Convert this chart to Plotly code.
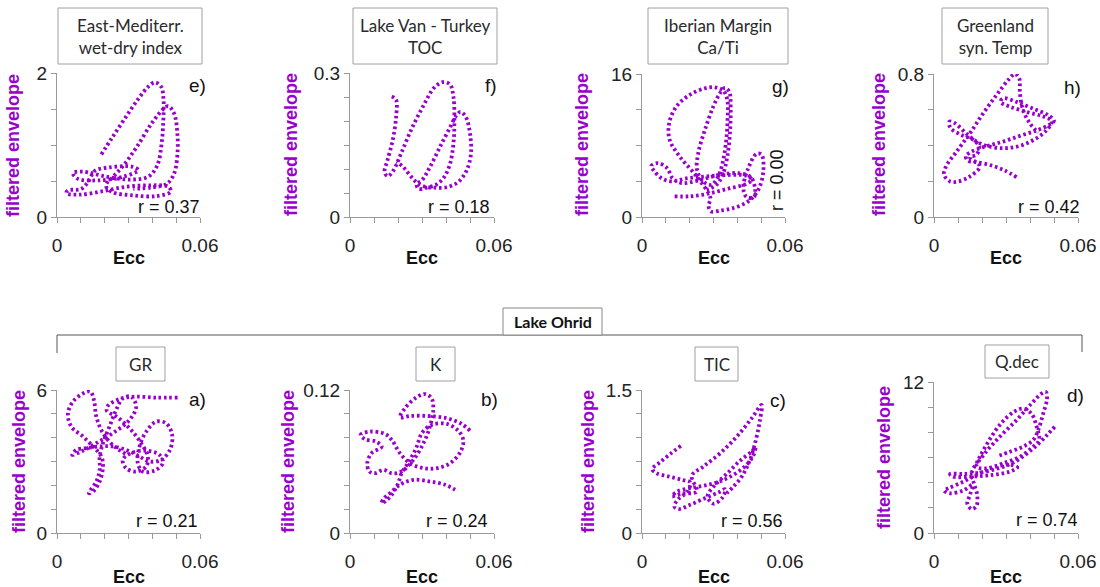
import plotly.graph_objects as go

W, H = 1100, 587
PURPLE = "#9900cc"
AXIS_GREY = "#9a9a9a"
TXT = "#222222"
FONT = "Liberation Sans, Arial, sans-serif"
TFONT = "Lato, Open Sans, sans-serif"

# ---------------- data: (Ecc, filtered envelope) trajectories ----------------
e_x = [0.0186, 0.0229, 0.0285, 0.0341, 0.0383, 0.0411, 0.0437, 0.0447, 0.0446, 0.0439,
       0.0421, 0.0383, 0.0306, 0.0207, 0.0109, 0.0067, 0.0088, 0.0179, 0.0278, 0.0341,
       0.0313, 0.0222, 0.0158, 0.0135, 0.0102, 0.0046, 0.0039, 0.0095, 0.0193, 0.0292,
       0.0390, 0.0467, 0.0477, 0.0418, 0.0320, 0.0229, 0.0205, 0.0236, 0.0280, 0.0334,
       0.0397, 0.0446, 0.0467, 0.0491, 0.0505, 0.0505, 0.0491, 0.0460, 0.0397, 0.0320]
e_y = [0.87, 1.09, 1.37, 1.64, 1.81, 1.87, 1.81, 1.62, 1.34, 1.02,
       0.72, 0.56, 0.52, 0.56, 0.63, 0.61, 0.53, 0.51, 0.56, 0.65,
       0.70, 0.69, 0.64, 0.51, 0.39, 0.37, 0.33, 0.31, 0.36, 0.42,
       0.44, 0.42, 0.35, 0.29, 0.30, 0.35, 0.44, 0.56, 0.72, 0.97,
       1.30, 1.50, 1.54, 1.44, 1.16, 0.86, 0.60, 0.46, 0.41, 0.39]

f_x = [0.0174, 0.0192, 0.0192, 0.0178, 0.0156, 0.0144, 0.0157, 0.0181, 0.0215, 0.0257,
       0.0306, 0.0350, 0.0386, 0.0417, 0.0431, 0.0435, 0.0431, 0.0417, 0.0392, 0.0361,
       0.0319, 0.0285, 0.0278, 0.0299, 0.0333, 0.0375, 0.0417, 0.0444, 0.0461, 0.0483,
       0.0500, 0.0504, 0.0486, 0.0451, 0.0403, 0.0354, 0.0306, 0.0275, 0.0250, 0.0222,
       0.0194]
f_y = [0.251, 0.244, 0.208, 0.160, 0.118, 0.094, 0.085, 0.097, 0.135, 0.184,
       0.232, 0.269, 0.281, 0.276, 0.250, 0.201, 0.153, 0.111, 0.083, 0.068,
       0.061, 0.059, 0.069, 0.076, 0.104, 0.146, 0.187, 0.212, 0.219, 0.208,
       0.174, 0.132, 0.097, 0.073, 0.062, 0.061, 0.064, 0.073, 0.087, 0.104,
       0.115]

g_x = [0.0137, 0.0200, 0.0271, 0.0355, 0.0439, 0.0460, 0.0439, 0.0355, 0.0271, 0.0186,
       0.0123, 0.0081, 0.0049, 0.0039, 0.0067, 0.0105, 0.0128, 0.0165, 0.0236, 0.0327,
       0.0404, 0.0456, 0.0474, 0.0470, 0.0439, 0.0425, 0.0446, 0.0481, 0.0502, 0.0509,
       0.0488, 0.0446, 0.0383, 0.0327, 0.0289, 0.0279, 0.0287, 0.0229, 0.0158, 0.0116,
       0.0114, 0.0144, 0.0200, 0.0264, 0.0306, 0.0341, 0.0358, 0.0359, 0.0352, 0.0338,
       0.0320, 0.0292, 0.0257, 0.0231, 0.0236, 0.0264, 0.0299, 0.0327, 0.0348, 0.0366,
       0.0372, 0.0369, 0.0358, 0.0341, 0.0313, 0.0271]
g_y = [2.31, 2.31, 2.57, 3.13, 3.72, 4.17, 4.61, 4.69, 4.54, 4.32,
       3.98, 4.35, 5.21, 5.73, 6.03, 5.47, 4.35, 3.80, 4.09, 4.73,
       4.91, 4.47, 3.24, 2.23, 2.23, 3.24, 5.47, 7.07, 6.96, 5.10,
       3.05, 1.75, 1.00, 0.71, 0.63, 1.27, 2.12, 4.54, 6.77, 8.63,
       10.49, 12.35, 13.66, 14.40, 14.51, 14.14, 13.10, 10.87, 8.26, 6.03,
       4.54, 3.61, 3.98, 5.28, 7.14, 9.75, 12.35, 13.84, 14.44, 14.03,
       12.35, 9.38, 6.77, 4.91, 3.61, 3.05]

h_x = [0.0344, 0.0295, 0.0240, 0.0177, 0.0140, 0.0133, 0.0157, 0.0205, 0.0281, 0.0358,
       0.0427, 0.0482, 0.0500, 0.0475, 0.0413, 0.0344, 0.0288, 0.0277, 0.0316, 0.0385,
       0.0455, 0.0491, 0.0468, 0.0420, 0.0358, 0.0288, 0.0219, 0.0177, 0.0136, 0.0087,
       0.0064, 0.0069, 0.0115, 0.0164, 0.0188, 0.0177, 0.0150, 0.0191, 0.0150, 0.0101,
       0.0067, 0.0042, 0.0050, 0.0094, 0.0150, 0.0205, 0.0261, 0.0309, 0.0337, 0.0355,
       0.0358, 0.0371, 0.0399, 0.0434]
h_y = [0.223, 0.260, 0.288, 0.307, 0.316, 0.342, 0.366, 0.391, 0.419, 0.454,
       0.484, 0.517, 0.539, 0.571, 0.606, 0.644, 0.664, 0.644, 0.618, 0.588,
       0.562, 0.536, 0.484, 0.435, 0.398, 0.385, 0.398, 0.422, 0.465, 0.525,
       0.534, 0.497, 0.459, 0.432, 0.394, 0.348, 0.335, 0.283, 0.227, 0.199,
       0.199, 0.236, 0.283, 0.366, 0.469, 0.580, 0.683, 0.766, 0.800, 0.776,
       0.692, 0.599, 0.525, 0.472]

a_x = [0.0506, 0.0416, 0.0325, 0.0262, 0.0213, 0.0209, 0.0255, 0.0311, 0.0353, 0.0381,
       0.0374, 0.0332, 0.0290, 0.0276, 0.0311, 0.0374, 0.0430, 0.0444, 0.0409, 0.0360,
       0.0339, 0.0346, 0.0374, 0.0416, 0.0458, 0.0483, 0.0474, 0.0437, 0.0388, 0.0346,
       0.0290, 0.0234, 0.0179, 0.0123, 0.0081, 0.0064, 0.0102, 0.0165, 0.0234, 0.0304,
       0.0332, 0.0311, 0.0276, 0.0248, 0.0220, 0.0193, 0.0179, 0.0179, 0.0165, 0.0140,
       0.0134, 0.0151, 0.0179, 0.0193, 0.0186, 0.0151, 0.0109, 0.0060, 0.0046, 0.0067,
       0.0116, 0.0140, 0.0155, 0.0165, 0.0193, 0.0241, 0.0297]
a_y = [5.68, 5.68, 5.72, 5.62, 5.33, 5.13, 4.85, 4.32, 3.77, 3.21,
       2.79, 2.58, 2.72, 3.07, 3.35, 3.46, 3.28, 2.93, 2.62, 2.58,
       2.93, 3.63, 4.25, 4.67, 4.60, 4.12, 3.49, 3.07, 3.00, 3.21,
       3.49, 3.63, 3.63, 3.56, 3.49, 3.28, 3.42, 3.77, 4.19, 4.74,
       5.30, 5.72, 5.65, 5.16, 4.46, 3.77, 3.21, 2.65, 2.16, 1.79,
       1.67, 1.74, 2.16, 2.79, 3.21, 3.63, 4.05, 4.46, 5.02, 5.51,
       5.89, 5.93, 5.58, 4.88, 4.19, 3.63, 3.28]

b_x = [0.0500, 0.0465, 0.0403, 0.0326, 0.0250, 0.0208, 0.0229, 0.0271, 0.0313, 0.0340,
       0.0347, 0.0333, 0.0306, 0.0264, 0.0215, 0.0174, 0.0139, 0.0104, 0.0081, 0.0072,
       0.0090, 0.0132, 0.0108, 0.0063, 0.0044, 0.0083, 0.0146, 0.0174, 0.0208, 0.0250,
       0.0306, 0.0361, 0.0417, 0.0461, 0.0472, 0.0451, 0.0403, 0.0340, 0.0299, 0.0278,
       0.0250, 0.0215, 0.0201, 0.0174, 0.0146, 0.0132, 0.0139, 0.0167, 0.0208, 0.0264,
       0.0333, 0.0396, 0.0438]
b_y = [0.0859, 0.0915, 0.0963, 0.0982, 0.0982, 0.0971, 0.1046, 0.1130, 0.1166, 0.1130,
       0.1032, 0.0893, 0.0753, 0.0614, 0.0516, 0.0502, 0.0530, 0.0502, 0.0516, 0.0586,
       0.0670, 0.0725, 0.0767, 0.0787, 0.0823, 0.0851, 0.0831, 0.0781, 0.0670, 0.0586,
       0.0544, 0.0544, 0.0586, 0.0684, 0.0781, 0.0859, 0.0915, 0.0907, 0.0837, 0.0725,
       0.0614, 0.0502, 0.0419, 0.0321, 0.0265, 0.0251, 0.0285, 0.0335, 0.0405, 0.0446,
       0.0432, 0.0405, 0.0363]

c_x = [0.0163, 0.0119, 0.0074, 0.0043, 0.0060, 0.0112, 0.0167, 0.0202, 0.0191, 0.0153,
       0.0135, 0.0153, 0.0202, 0.0265, 0.0321, 0.0349, 0.0339, 0.0300, 0.0275, 0.0303,
       0.0356, 0.0412, 0.0460, 0.0476, 0.0465, 0.0428, 0.0372, 0.0314, 0.0258, 0.0202,
       0.0149, 0.0126, 0.0167, 0.0230, 0.0209, 0.0258, 0.0328, 0.0398, 0.0460, 0.0502,
       0.0495, 0.0478, 0.0453, 0.0419, 0.0384, 0.0356]
c_y = [0.914, 0.830, 0.739, 0.670, 0.628, 0.593, 0.558, 0.530, 0.436, 0.356,
       0.279, 0.251, 0.296, 0.366, 0.426, 0.460, 0.377, 0.307, 0.384, 0.495,
       0.621, 0.760, 0.855, 0.900, 0.802, 0.691, 0.593, 0.530, 0.495, 0.471,
       0.436, 0.384, 0.412, 0.436, 0.600, 0.698, 0.837, 1.012, 1.203, 1.343,
       1.186, 0.977, 0.767, 0.593, 0.488, 0.419]

d_x = [0.0503, 0.0475, 0.0434, 0.0385, 0.0330, 0.0268, 0.0191, 0.0122, 0.0067, 0.0078,
       0.0150, 0.0233, 0.0316, 0.0347, 0.0313, 0.0247, 0.0177, 0.0115, 0.0060, 0.0042,
       0.0067, 0.0122, 0.0161, 0.0150, 0.0139, 0.0157, 0.0177, 0.0180, 0.0166, 0.0157,
       0.0184, 0.0226, 0.0281, 0.0333, 0.0371, 0.0406, 0.0427, 0.0438, 0.0413, 0.0358,
       0.0288, 0.0219, 0.0177, 0.0212, 0.0274, 0.0344, 0.0406, 0.0448, 0.0466, 0.0471,
       0.0455, 0.0434, 0.0413, 0.0371, 0.0316, 0.0261]
d_y = [8.44, 7.86, 7.07, 6.28, 5.59, 5.14, 4.80, 4.69, 4.69, 4.48,
       4.48, 4.59, 4.88, 5.22, 5.43, 5.22, 4.61, 4.01, 3.56, 3.38,
       3.16, 3.38, 3.82, 3.03, 2.32, 1.90, 2.16, 3.03, 3.96, 4.75,
       5.80, 7.25, 8.75, 9.63, 9.89, 9.49, 8.49, 7.38, 6.86, 6.07,
       5.54, 5.14, 5.27, 6.33, 7.65, 8.97, 10.28, 11.08, 11.21, 10.68,
       9.49, 8.17, 7.38, 6.86, 6.46, 6.07]

# axis scales / labels
x_max = 0.06
x_step = 0.01
x_tick_labels = ["0", "0.06"]
panel_ids = ["e", "f", "g", "h", "a", "b", "c", "d"]
y_max = [2, 0.3, 16, 0.8, 6, 0.12, 1.5, 12]
y_step = [0.5, 0.05, 4, 0.2, 1, 0.02, 0.25, 2]
y_top_labels = ["2", "0.3", "16", "0.8", "6", "0.12", "1.5", "12"]
r_labels = ["r = 0.37", "r = 0.18", "r = 0.00", "r = 0.42",
            "r = 0.21", "r = 0.24", "r = 0.56", "r = 0.74"]
titles = ["East-Mediterr.<br>wet-dry index", "Lake Van - Turkey<br>TOC",
          "Iberian Margin<br>Ca/Ti", "Greenland<br>syn. Temp",
          "GR", "K", "TIC", "Q.dec"]
series_x = [e_x, f_x, g_x, h_x, a_x, b_x, c_x, d_x]
series_y = [e_y, f_y, g_y, h_y, a_y, b_y, c_y, d_y]

# ---------------- layout geometry (pixels) ----------------
plot_px = [(57, 200, 73, 217), (350, 494, 73, 217), (642, 785, 74, 217), (934, 1078, 74, 217),
           (57, 200, 390, 533), (350, 494, 390, 533), (642, 785, 390, 533), (934, 1078, 382, 533)]
title_box_px = [(58, 202, 8, 64), (353, 497, 8, 64), (648, 788, 8, 64), (942, 1048, 8, 64),
                (116, 165, 347, 381), (416, 455, 347, 381), (695, 738, 347, 381), (985, 1049, 345, 378)]
ylabel_px = [(13, 146), (291, 145), (582, 145), (879, 145),
             (19, 462), (288, 462), (588, 462), (884, 458)]
letter_px = [(197, 85), (491, 85), (780, 86), (1072, 87),
             (197, 399), (489, 399), (778, 400), (1075, 395)]
r_px = [(202, 207), (492, 207), (777, 180), (1082, 207),
        (200, 521), (490, 521), (785, 521), (1080, 520)]
ecc_y_px = [258, 258, 258, 258, 577, 577, 577, 577]


def fx(px):
    return px / W


def fy(py):
    return 1 - py / H


fig = go.Figure()
annotations = []
shapes = []

xtickvals = [round(i * x_step, 6) for i in range(int(round(x_max / x_step)) + 1)]
xticktext = [x_tick_labels[0]] + [""] * (len(xtickvals) - 2) + [x_tick_labels[1]]

for i, pid in enumerate(panel_ids):
    n = i + 1
    xa = "x" if n == 1 else f"x{n}"
    ya = "y" if n == 1 else f"y{n}"
    fig.add_trace(go.Scatter(
        x=series_x[i], y=series_y[i], xaxis=xa, yaxis=ya, mode="lines",
        line=dict(color=PURPLE, width=3.8, shape="spline", smoothing=1.0, dash="2.6px,2.8px"),
        hoverinfo="skip", showlegend=False, cliponaxis=False))

    x0, x1, y0, y1 = plot_px[i]
    nt = int(round(y_max[i] / y_step[i]))
    ytickvals = [round(k * y_step[i], 6) for k in range(nt + 1)]
    yticktext = ["0"] + [""] * (nt - 1) + [y_top_labels[i]]
    axcommon = dict(showline=True, linecolor=AXIS_GREY, linewidth=1, ticks="outside",
                    ticklen=5, tickwidth=1, tickcolor=AXIS_GREY, showgrid=False,
                    zeroline=False, fixedrange=True, automargin=False,
                    tickfont=dict(family=FONT, size=19, color=TXT))
    xkey = "xaxis" if n == 1 else f"xaxis{n}"
    ykey = "yaxis" if n == 1 else f"yaxis{n}"
    fig.layout[xkey] = dict(domain=[fx(x0), fx(x1)], range=[0, x_max], anchor=ya,
                            tickmode="array", tickvals=xtickvals, ticktext=xticktext,
                            ticklabelstandoff=6, **axcommon)
    fig.layout[ykey] = dict(domain=[fy(y1), fy(y0)], range=[0, y_max[i]], anchor=xa,
                            tickmode="array", tickvals=ytickvals, ticktext=yticktext,
                            **axcommon)

    # axis title Ecc
    annotations.append(dict(text="<b>Ecc</b>", x=fx((x0 + x1) / 2), y=fy(ecc_y_px[i]),
                            xref="paper", yref="paper", showarrow=False,
                            xanchor="center", yanchor="middle",
                            font=dict(family=FONT, size=18, color="#111111")))
    # y label
    lx, ly = ylabel_px[i]
    annotations.append(dict(text="<b>filtered envelope</b>", x=fx(lx), y=fy(ly),
                            xref="paper", yref="paper", showarrow=False, textangle=-90,
                            xanchor="center", yanchor="middle",
                            font=dict(family=FONT, size=18, color=PURPLE)))
    # panel letter
    px_, py_ = letter_px[i]
    annotations.append(dict(text=pid + ")", x=fx(px_), y=fy(py_), xref="paper", yref="paper",
                            showarrow=False, xanchor="center", yanchor="middle",
                            font=dict(family=FONT, size=19, color="#111111")))
    # r value
    rx, ry = r_px[i]
    if pid == "g":
        annotations.append(dict(text=r_labels[i], x=fx(rx), y=fy(ry), xref="paper", yref="paper",
                                showarrow=False, textangle=-90, xanchor="center", yanchor="middle",
                                font=dict(family=FONT, size=18, color="#111111")))
    else:
        annotations.append(dict(text=r_labels[i], x=fx(rx), y=fy(ry), xref="paper", yref="paper",
                                showarrow=False, xanchor="right", yanchor="middle",
                                font=dict(family=FONT, size=18, color="#111111")))
    # title box
    bx0, bx1, by0, by1 = title_box_px[i]
    shapes.append(dict(type="rect", xref="paper", yref="paper",
                       x0=fx(bx0), x1=fx(bx1), y0=fy(by1), y1=fy(by0),
                       line=dict(color="#a0a0a0", width=1), fillcolor="white", layer="above"))
    annotations.append(dict(text=titles[i], x=fx((bx0 + bx1) / 2), y=fy((by0 + by1) / 2),
                            xref="paper", yref="paper", showarrow=False,
                            xanchor="center", yanchor="middle",
                            font=dict(family=TFONT, size=17, color="#2a2a2a")))

# Lake Ohrid bracket
br_y = 335
shapes.append(dict(type="line", xref="paper", yref="paper", x0=fx(57), x1=fx(1082),
                   y0=fy(br_y), y1=fy(br_y), line=dict(color="#555555", width=1)))
shapes.append(dict(type="line", xref="paper", yref="paper", x0=fx(57), x1=fx(57),
                   y0=fy(br_y), y1=fy(353), line=dict(color="#555555", width=1)))
shapes.append(dict(type="line", xref="paper", yref="paper", x0=fx(1082), x1=fx(1082),
                   y0=fy(br_y), y1=fy(352), line=dict(color="#555555", width=1)))
shapes.append(dict(type="rect", xref="paper", yref="paper", x0=fx(503), x1=fx(602),
                   y0=fy(335), y1=fy(308), line=dict(color="#888888", width=1),
                   fillcolor="white", layer="above"))
annotations.append(dict(text="<b>Lake Ohrid</b>", x=fx(552.5), y=fy(321.5), xref="paper",
                        yref="paper", showarrow=False, xanchor="center", yanchor="middle",
                        font=dict(family=TFONT, size=16, color="#111111")))

fig.update_layout(width=W, height=H, autosize=False,
                  margin=dict(l=0, r=0, t=0, b=0, pad=0),
                  paper_bgcolor="white", plot_bgcolor="white",
                  showlegend=False, annotations=annotations, shapes=shapes)

fig.write_html("out.html", config={"displayModeBar": False, "staticPlot": True},
               post_script="document.documentElement.style.margin='0';"
                           "document.body.style.margin='0';"
                           "document.body.style.padding='0';"
                           "document.body.style.overflow='hidden';")
